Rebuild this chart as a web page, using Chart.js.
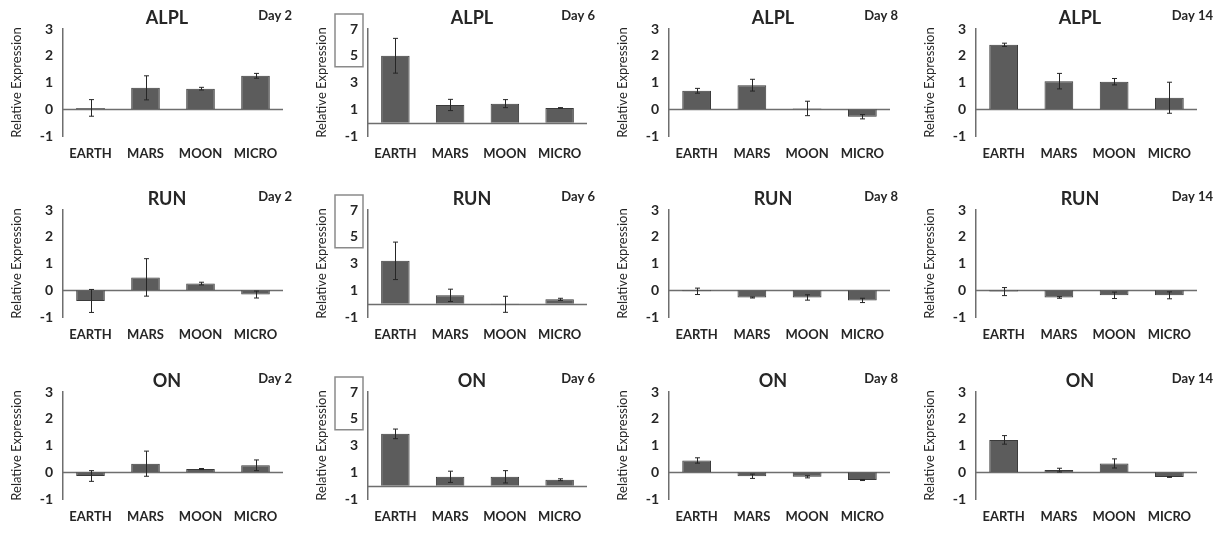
<!DOCTYPE html>
<html>
<head>
<meta charset="utf-8">
<script src="https://cdn.jsdelivr.net/npm/chart.js@4.4.1/dist/chart.umd.min.js"></script>
<style>
  html, body { margin: 0; padding: 0; background: #fff; width: 1224px; height: 533px; overflow: hidden; position: relative; }
  canvas { position: absolute; }
</style>
</head>
<body>
<script>
// categories and labels
const categories = ['EARTH', 'MARS', 'MOON', 'MICRO'];
const genes = ['ALPL', 'RUN', 'ON'];
const days = ['Day 2', 'Day 6', 'Day 8', 'Day 14'];
const ticksSmall = [-1, 0, 1, 2, 3];
const ticksDay6 = [-1, 1, 3, 5, 7];

// mean relative expression, one row per day (2, 6, 8, 14)
const alplMeans = [
    [0.05, 0.80, 0.77, 1.25],
    [5.00, 1.32, 1.42, 1.10],
    [0.69, 0.90, 0.03, -0.28],
    [2.41, 1.05, 1.03, 0.43]
];
const alplErrors = [
    [0.31, 0.45, 0.05, 0.09],
    [1.30, 0.42, 0.30, 0.02],
    [0.09, 0.22, 0.27, 0.08],
    [0.06, 0.29, 0.12, 0.58]
];
const runMeans = [
    [-0.40, 0.48, 0.25, -0.16],
    [3.20, 0.62, -0.05, 0.32],
    [-0.04, -0.27, -0.27, -0.38],
    [-0.05, -0.27, -0.19, -0.19]
];
const runErrors = [
    [0.43, 0.70, 0.05, 0.13],
    [1.40, 0.46, 0.60, 0.08],
    [0.12, 0.02, 0.10, 0.08],
    [0.15, 0.03, 0.12, 0.13]
];
const onMeans = [
    [-0.14, 0.32, 0.12, 0.26],
    [3.87, 0.66, 0.66, 0.44],
    [0.44, -0.15, -0.17, -0.29],
    [1.21, 0.08, 0.33, -0.18]
];
const onErrors = [
    [0.20, 0.47, 0.02, 0.20],
    [0.36, 0.42, 0.46, 0.07],
    [0.10, 0.08, 0.04, 0.02],
    [0.16, 0.07, 0.17, 0.01]
];

const geneMeans = [alplMeans, runMeans, onMeans];
const geneErrors = [alplErrors, runErrors, onErrors];

// panel geometry
const axisX = [63, 368, 669, 976];
const plotW = [220, 219, 221, 221];
const rightPad = [22, 22, 22, 26];
const dayShift = [9, 8, 8, 16];
const rowTop = [29, 210, 392];
const yAxisW = 63;
const canvasH = 170;
const plotH = 107;

const FONT = 'Lato, "Open Sans", sans-serif';
const INK = '#262626';
const AXIS = '#6e6e6e';

// zero line, titles, the Day-6 box and the error bars
const panelDecor = {
    id: 'panelDecor',
    beforeDatasetsDraw(chart) {
        const ctx = chart.ctx;
        const y = chart.scales.y;
        const area = chart.chartArea;
        const y0 = Math.round(y.getPixelForValue(0)) + 0.5;
        ctx.save();
        ctx.strokeStyle = AXIS;
        ctx.lineWidth = 1.5;
        ctx.beginPath();
        ctx.moveTo(area.left, y0);
        ctx.lineTo(area.right, y0);
        ctx.stroke();
        ctx.restore();
    },
    afterDatasetsDraw(chart) {
        const ctx = chart.ctx;
        const y = chart.scales.y;
        const ds = chart.data.datasets[0];
        const meta = chart.getDatasetMeta(0);
        ctx.save();
        ctx.strokeStyle = INK;
        ctx.lineWidth = 1;
        meta.data.forEach((bar, i) => {
            const v = ds.data[i];
            const e = ds.errors[i];
            const x = Math.round(bar.x) + 0.5;
            const yTop = y.getPixelForValue(v + e);
            const yBot = y.getPixelForValue(v - e);
            ctx.beginPath();
            ctx.moveTo(x, yTop);
            ctx.lineTo(x, yBot);
            ctx.moveTo(x - 2.5, yTop);
            ctx.lineTo(x + 2.5, yTop);
            ctx.moveTo(x - 2.5, yBot);
            ctx.lineTo(x + 2.5, yBot);
            ctx.stroke();
        });
        ctx.restore();
    },
    afterDraw(chart) {
        const opts = chart.options.plugins.panelDecor;
        const ctx = chart.ctx;
        const area = chart.chartArea;
        const y = chart.scales.y;
        ctx.save();
        ctx.fillStyle = INK;
        ctx.textBaseline = 'middle';
        ctx.font = 'bold 18px ' + FONT;
        ctx.textAlign = 'center';
        ctx.fillText(opts.title, area.left + 104, area.top - 11);
        ctx.font = 'bold 13px ' + FONT;
        ctx.textAlign = 'right';
        ctx.fillText(opts.day, area.right + opts.dayShift, area.top - 13);
        if (opts.box) {
            const top = y.getPixelForValue(7) - 15;
            const bot = y.getPixelForValue(5) + 11;
            ctx.strokeStyle = '#8a8a8a';
            ctx.lineWidth = 1.5;
            ctx.strokeRect(area.left - 33, top, 28, bot - top);
        }
        ctx.restore();
    }
};

function makePanel(row, col) {
    const day6 = col === 1;
    const tickList = day6 ? ticksDay6 : ticksSmall;
    const canvas = document.createElement('canvas');
    const w = yAxisW + plotW[col] + rightPad[col];
    canvas.width = w;
    canvas.height = canvasH;
    canvas.style.left = (axisX[col] - yAxisW) + 'px';
    canvas.style.top = (rowTop[row] - 29) + 'px';
    canvas.style.width = w + 'px';
    canvas.style.height = canvasH + 'px';
    document.body.appendChild(canvas);

    new Chart(canvas.getContext('2d'), {
        type: 'bar',
        data: {
            labels: categories,
            datasets: [{
                data: geneMeans[row][col],
                errors: geneErrors[row][col],
                backgroundColor: '#5c5c5c',
                borderColor: '#3a3a3a',
                borderWidth: 1,
                barPercentage: 0.52,
                categoryPercentage: 1
            }]
        },
        options: {
            responsive: false,
            animation: false,
            devicePixelRatio: 1,
            layout: { padding: { top: 29, right: rightPad[col], left: 0, bottom: 0 } },
            plugins: {
                legend: { display: false },
                tooltip: { enabled: false },
                panelDecor: { title: genes[row], day: days[col], dayShift: dayShift[col], box: day6 }
            },
            scales: {
                x: {
                    grid: { display: false, drawTicks: false },
                    border: { display: false },
                    ticks: { color: INK, font: { family: FONT, size: 13, weight: 'bold' }, padding: 10, maxRotation: 0 },
                    afterFit: s => { s.height = canvasH - 29 - plotH; }
                },
                y: {
                    min: tickList[0],
                    max: tickList[tickList.length - 1],
                    afterBuildTicks: s => { s.ticks = tickList.map(v => ({ value: v })); },
                    grid: { display: false, drawTicks: false },
                    border: { display: true, color: AXIS, width: 1.5 },
                    ticks: { color: INK, font: { family: FONT, size: 14, weight: 'bold' }, padding: 10 },
                    title: {
                        display: true,
                        text: 'Relative Expression',
                        color: INK,
                        font: { family: FONT, size: 13 },
                        padding: { top: 9, bottom: 0 }
                    },
                    afterFit: s => { s.width = yAxisW; }
                }
            }
        },
        plugins: [panelDecor]
    });
}

for (let r = 0; r < genes.length; r++) {
    for (let c = 0; c < days.length; c++) {
        makePanel(r, c);
    }
}
</script>
</body>
</html>
